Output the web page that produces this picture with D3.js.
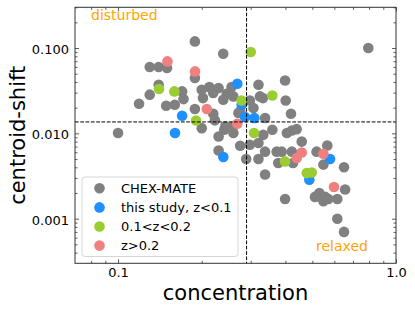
<!DOCTYPE html>
<html>
<head>
<meta charset="utf-8">
<script src="https://cdn.jsdelivr.net/npm/d3@7"></script>
<style>
html,body{margin:0;padding:0;background:#fff;}
svg{display:block;font-family:"DejaVu Sans",sans-serif;}
</style>
</head>
<body>
<svg id="chart" width="415" height="312"></svg>
<script>
// ---- data ----
const chexX = [0.100,0.119,0.130,0.140,0.150,0.140,0.130,0.149,0.160,0.170,0.172,0.189,0.189,0.239,0.189,0.200,0.213,0.202,0.230,0.246,0.260,0.239,0.271,0.200,0.230,0.241,0.260,0.275,0.230,0.243,0.260,0.220,0.223,0.289,0.298,0.307,0.320,0.324,0.332,0.399,0.401,0.419,0.275,0.338,0.359,0.405,0.422,0.439,0.458,0.333,0.298,0.320,0.320,0.338,0.372,0.388,0.377,0.338,0.399,0.422,0.426,0.518,0.566,0.548,0.650,0.530,0.511,0.556,0.571,0.548,0.615,0.656,0.615,0.650,0.795,0.220,0.256];
const chexY = [0.0101,0.0222,0.0599,0.0599,0.0583,0.0371,0.0284,0.0211,0.0216,0.0310,0.0252,0.1195,0.0445,0.0857,0.0193,0.0324,0.0349,0.0259,0.0340,0.0291,0.0271,0.0248,0.0173,0.0115,0.0092,0.0110,0.0101,0.00715,0.0063,0.0121,0.0121,0.0170,0.0142,0.0050,0.0243,0.0198,0.0371,0.0271,0.0259,0.0417,0.0243,0.0170,0.0181,0.0151,0.0110,0.0101,0.0108,0.0112,0.0080,0.0096,0.00735,0.0077,0.0050,0.0061,0.0061,0.0061,0.0045,0.0033,0.0017,0.0061,0.0045,0.0061,0.0072,0.0043,0.0040,0.0020,0.0018,0.0018,0.0017,0.0016,0.0017,0.0022,0.0010,0.0007,0.100,0.0297,0.0349];
const lowZX = [0.2686,0.2785,0.2863,0.3093,0.170,0.1603,0.2392,0.5789,0.4877];
const lowZY = [0.0382,0.0216,0.0155,0.0151,0.0161,0.0101,0.00528,0.0050,0.00286];
const midZX = [0.3002,0.1404,0.1594,0.1908,0.2785,0.359,0.3085,0.3988,0.4773,0.4975];
const midZY = [0.0898,0.0331,0.0310,0.01416,0.0243,0.0278,0.0101,0.00469,0.00342,0.00348];
const highZX = [0.1505,0.1892,0.2085,0.2686,0.4394,0.458,0.5478,0.5984];
const highZY = [0.0697,0.0532,0.0193,0.01296,0.00513,0.00597,0.00577,0.00235];
const seriesNames = ["CHEX-MATE","this study, z<0.1","0.1<z<0.2","z>0.2"];
const seriesColors = ["#808080","#1E90FF","#9ACD32","#F08080"];
const xMajor = [0.1,1.0];
const xMinor = [0.08,0.09,0.2,0.3,0.4,0.5,0.6,0.7,0.8,0.9];
const yMajor = [0.001,0.01,0.1];
const yMinor = [0.0004,0.0005,0.0006,0.0007,0.0008,0.0009,0.002,0.003,0.004,0.005,0.006,0.007,0.008,0.009,0.02,0.03,0.04,0.05,0.06,0.07,0.08,0.09,0.2,0.3];
const cutX = 0.29;
const cutY = 0.0136;

// ---- layout ----
const L = 75, R = 396, T = 7.3, B = 263.3;
const svg = d3.select("#chart");
const x = d3.scaleLog().domain([0.07, 1.0]).range([L, R]);
const y = d3.scaleLog().domain([0.0003, 0.3]).range([B, T]);

const seriesData = [
  d3.zip(chexX, chexY),
  d3.zip(lowZX, lowZY),
  d3.zip(midZX, midZY),
  d3.zip(highZX, highZY)
];

const plot = svg.append("g");
seriesData.forEach((pts, i) => {
  plot.append("g").selectAll("circle").data(pts).join("circle")
    .attr("cx", d => x(d[0])).attr("cy", d => y(d[1]))
    .attr("r", 5.3).attr("fill", seriesColors[i]);
});

// dashed lines
svg.append("line").attr("x1", x(cutX)).attr("x2", x(cutX)).attr("y1", T).attr("y2", B)
  .attr("stroke", "#000").attr("stroke-width", 1).attr("stroke-dasharray", "3.7,1.6");
svg.append("line").attr("x1", L).attr("x2", R).attr("y1", y(cutY)).attr("y2", y(cutY))
  .attr("stroke", "#000").attr("stroke-width", 1).attr("stroke-dasharray", "3.7,1.6");

// axes
function styleAxis(g){
  g.select(".domain").remove();
  g.selectAll(".tick line").attr("stroke", "#333").attr("stroke-width", 0.8);
  g.selectAll("text").attr("font-family", "DejaVu Sans").attr("font-size", 13).attr("fill", "#000");
}
const gxb = svg.append("g").attr("transform", `translate(0,${B})`)
  .call(d3.axisBottom(x).tickValues(xMajor).tickSize(-4).tickSizeOuter(0).tickPadding(4.5).tickFormat(d3.format(".1f")));
styleAxis(gxb);
const gxbm = svg.append("g").attr("transform", `translate(0,${B})`)
  .call(d3.axisBottom(x).tickValues(xMinor).tickSize(-2.5).tickSizeOuter(0).tickFormat(""));
styleAxis(gxbm);
const gxt = svg.append("g").attr("transform", `translate(0,${T})`)
  .call(d3.axisTop(x).tickValues(xMajor).tickSize(-4).tickSizeOuter(0).tickFormat(""));
styleAxis(gxt);
const gxtm = svg.append("g").attr("transform", `translate(0,${T})`)
  .call(d3.axisTop(x).tickValues(xMinor).tickSize(-2.5).tickSizeOuter(0).tickFormat(""));
styleAxis(gxtm);

const gyl = svg.append("g").attr("transform", `translate(${L},0)`)
  .call(d3.axisLeft(y).tickValues(yMajor).tickSize(-4).tickSizeOuter(0).tickPadding(6).tickFormat(d3.format(".3f")));
styleAxis(gyl);
gyl.selectAll("text").attr("dy", "0.42em");
const gylm = svg.append("g").attr("transform", `translate(${L},0)`)
  .call(d3.axisLeft(y).tickValues(yMinor).tickSize(-2.5).tickSizeOuter(0).tickFormat(""));
styleAxis(gylm);
const gyr = svg.append("g").attr("transform", `translate(${R},0)`)
  .call(d3.axisRight(y).tickValues(yMajor).tickSize(-4).tickSizeOuter(0).tickFormat(""));
styleAxis(gyr);
const gyrm = svg.append("g").attr("transform", `translate(${R},0)`)
  .call(d3.axisRight(y).tickValues(yMinor).tickSize(-2.5).tickSizeOuter(0).tickFormat(""));
styleAxis(gyrm);

// frame
svg.append("rect").attr("x", L).attr("y", T).attr("width", R - L).attr("height", B - T)
  .attr("fill", "none").attr("stroke", "#333").attr("stroke-width", 1);

// annotations
svg.append("text").attr("x", 91).attr("y", 19.5).attr("font-size", 14).attr("fill", "#FFA500").text("disturbed");
svg.append("text").attr("x", 316).attr("y", 251).attr("font-size", 14).attr("fill", "#FFA500").text("relaxed");

// axis titles
svg.append("text").attr("x", (L + R) / 2).attr("y", 300).attr("text-anchor", "middle")
  .attr("font-size", 21).attr("fill", "#000").text("concentration");
svg.append("text").attr("transform", `translate(25,${(T + B) / 2}) rotate(-90)`).attr("text-anchor", "middle")
  .attr("font-size", 21).attr("fill", "#000").text("centroid-shift");

// legend
const lg = svg.append("g");
lg.append("rect").attr("x", 82).attr("y", 177).attr("width", 156).attr("height", 79.5).attr("rx", 3)
  .attr("fill", "#fff").attr("fill-opacity", 0.8).attr("stroke", "#d6d6d6").attr("stroke-width", 1);
seriesNames.forEach((name, i) => {
  const cy = 188.3 + i * 19.1;
  lg.append("circle").attr("cx", 99.5).attr("cy", cy).attr("r", 5.3).attr("fill", seriesColors[i]);
  lg.append("text").attr("x", 121).attr("y", cy + 4.5).attr("font-size", 13).attr("fill", "#000").text(name);
});
</script>
</body>
</html>
